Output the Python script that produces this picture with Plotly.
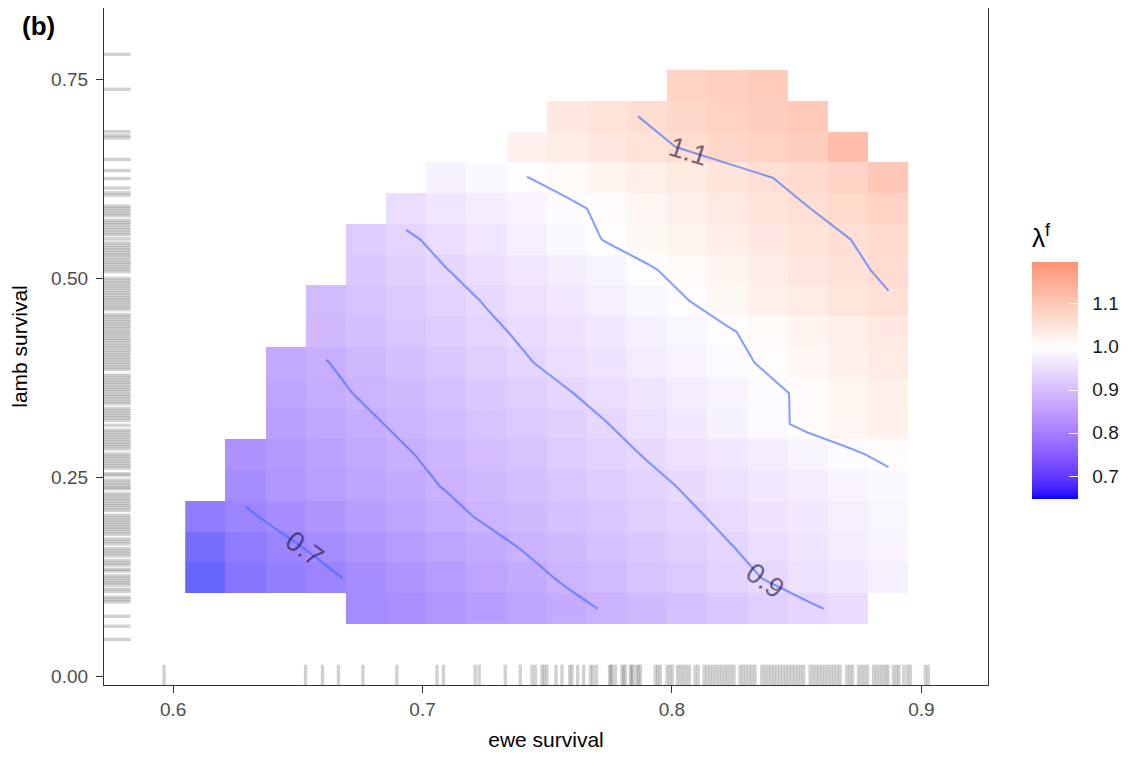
import math
import plotly.graph_objects as go

# ---------------- data ----------------
ewe_survival = [0.6129, 0.6290, 0.6451, 0.6612, 0.6773, 0.6934, 0.7096, 0.7257, 0.7418,
                0.7579, 0.7740, 0.7901, 0.8062, 0.8223, 0.8384, 0.8546, 0.8707, 0.8868]
lamb_survival = [0.0843, 0.1230, 0.1617, 0.2004, 0.2391, 0.2778, 0.3164, 0.3551, 0.3938,
                 0.4325, 0.4712, 0.5099, 0.5486, 0.5873, 0.6260, 0.6646, 0.7033, 0.7420]
N = None
# lambda^f, one row per lamb-survival value (bottom to top), one column per ewe-survival value
lambda_f = [
    [N, N, N, N, 0.705, 0.716, 0.733, 0.751, 0.769, 0.787, 0.804, 0.822, 0.840, 0.858, 0.876, 0.893, 0.911, N],
    [0.647, 0.665, 0.680, 0.692, 0.711, 0.730, 0.749, 0.768, 0.787, 0.806, 0.826, 0.845, 0.865, 0.884, 0.903, 0.922, 0.942, 0.961],
    [0.655, 0.673, 0.692, 0.711, 0.730, 0.748, 0.767, 0.786, 0.804, 0.823, 0.841, 0.860, 0.878, 0.897, 0.915, 0.934, 0.952, 0.970],
    [0.675, 0.694, 0.713, 0.732, 0.750, 0.769, 0.788, 0.806, 0.823, 0.841, 0.858, 0.875, 0.892, 0.910, 0.927, 0.944, 0.961, 0.978],
    [N, 0.712, 0.735, 0.753, 0.770, 0.786, 0.803, 0.820, 0.837, 0.854, 0.871, 0.888, 0.905, 0.922, 0.939, 0.956, 0.973, 0.985],
    [N, 0.725, 0.742, 0.760, 0.778, 0.796, 0.814, 0.831, 0.849, 0.867, 0.885, 0.903, 0.920, 0.938, 0.956, 0.974, 0.992, 1.010],
    [N, N, 0.756, 0.774, 0.792, 0.810, 0.828, 0.846, 0.864, 0.882, 0.899, 0.921, 0.944, 0.966, 0.988, 1.010, 1.025, 1.040],
    [N, N, 0.770, 0.788, 0.806, 0.824, 0.842, 0.860, 0.878, 0.897, 0.915, 0.934, 0.953, 0.971, 0.990, 1.009, 1.028, 1.047],
    [N, N, 0.781, 0.798, 0.820, 0.839, 0.858, 0.878, 0.897, 0.915, 0.933, 0.951, 0.970, 0.988, 1.006, 1.024, 1.042, 1.061],
    [N, N, N, 0.821, 0.838, 0.856, 0.873, 0.891, 0.908, 0.926, 0.944, 0.961, 0.979, 0.996, 1.014, 1.032, 1.049, 1.067],
    [N, N, N, 0.827, 0.846, 0.865, 0.884, 0.903, 0.923, 0.942, 0.961, 0.980, 0.999, 1.019, 1.038, 1.058, 1.077, 1.096],
    [N, N, N, N, 0.860, 0.879, 0.899, 0.918, 0.937, 0.957, 0.976, 0.995, 1.014, 1.033, 1.052, 1.071, 1.090, 1.108],
    [N, N, N, N, 0.870, 0.892, 0.915, 0.937, 0.959, 0.982, 1.003, 1.019, 1.035, 1.051, 1.067, 1.084, 1.099, 1.116],
    [N, N, N, N, N, 0.918, 0.937, 0.955, 0.973, 0.991, 1.009, 1.027, 1.045, 1.063, 1.081, 1.099, 1.117, 1.135],
    [N, N, N, N, N, N, 0.967, 0.983, 0.999, 1.016, 1.033, 1.049, 1.065, 1.082, 1.098, 1.114, 1.131, 1.170],
    [N, N, N, N, N, N, N, N, 1.038, 1.055, 1.072, 1.088, 1.105, 1.122, 1.138, 1.152, 1.195, N],
    [N, N, N, N, N, N, N, N, N, 1.070, 1.087, 1.104, 1.120, 1.137, 1.150, 1.165, N, N],
    [N, N, N, N, N, N, N, N, N, N, N, N, 1.130, 1.145, 1.155, N, N, N],
]
contour_levels = [0.7, 0.8, 0.9, 1.0, 1.1]
labelled_levels = ["0.7", "0.9", "1.1"]

x_ticks = [0.6, 0.7, 0.8, 0.9]
x_tick_text = ["0.6", "0.7", "0.8", "0.9"]
y_ticks = [0.00, 0.25, 0.50, 0.75]
y_tick_text = ["0.00", "0.25", "0.50", "0.75"]
cbar_ticks = [0.7, 0.8, 0.9, 1.0, 1.1]
cbar_tick_text = ["0.7", "0.8", "0.9", "1.0", "1.1"]

# rug values (observed survival estimates)
lamb_rug = [
    0.781, 0.737, 0.684, 0.679, 0.676, 0.649, 0.635, 0.625, 0.613, 0.607, 0.604,
    0.5902, 0.5874, 0.5843, 0.5811, 0.5783, 0.5726, 0.5697, 0.5669, 0.5634, 0.5605, 0.5571, 0.5543,
    0.5492, 0.5441, 0.5412, 0.5380, 0.5352, 0.5318, 0.5291, 0.5263, 0.5229, 0.5198, 0.5171, 0.5140,
    0.5109, 0.5081, 0.4995, 0.4964, 0.4936, 0.4902, 0.4875, 0.4843, 0.4811, 0.4782, 0.4751, 0.4723,
    0.4692, 0.4661, 0.4633, 0.4604, 0.4540, 0.4512, 0.4481, 0.4450, 0.4422, 0.4393, 0.4361, 0.4330,
    0.4302, 0.4271, 0.4240, 0.4212, 0.4183, 0.4151,
    0.4122, 0.4093, 0.4061, 0.4032, 0.4000, 0.3971, 0.3942, 0.3910, 0.3881, 0.3852, 0.3779, 0.3750,
    0.3719, 0.3690, 0.3661, 0.3630, 0.3601, 0.3572, 0.3540, 0.3511, 0.3482, 0.3450, 0.3421, 0.3362,
    0.3331, 0.3303, 0.3272, 0.3243, 0.3212, 0.3150, 0.3091, 0.3062, 0.3030, 0.3001, 0.2972, 0.2940,
    0.2911, 0.2882, 0.2851, 0.2790, 0.2761, 0.2732, 0.2700, 0.2671, 0.2640, 0.2611, 0.2542, 0.2520,
    0.2461, 0.2430, 0.2401, 0.2370, 0.2351, 0.2290, 0.2261, 0.2230, 0.2201, 0.2170, 0.2141, 0.2112,
    0.2082, 0.2021, 0.1990, 0.1961, 0.1930, 0.1902, 0.1871, 0.1843, 0.1812, 0.1781, 0.1722, 0.1691,
    0.1660, 0.1601, 0.1570, 0.1542, 0.1511, 0.1452, 0.1421, 0.1393, 0.1340, 0.1320, 0.1261, 0.1230,
    0.1201, 0.1172, 0.1143, 0.1091, 0.1062, 0.0990, 0.0961, 0.0932,
    0.075, 0.0625, 0.046,
]
ewe_rug = [
    0.5964, 0.6531, 0.6599, 0.6663, 0.6761, 0.6897, 0.7058, 0.7084, 0.7211, 0.7227, 0.7332, 0.7392,
    0.7439, 0.7452, 0.7479, 0.7488, 0.7499, 0.7535, 0.7559, 0.7590, 0.7599, 0.7622, 0.7646, 0.7673,
    0.7683, 0.7697, 0.7750, 0.7755, 0.7760, 0.7773, 0.7800, 0.7806, 0.7813, 0.7833, 0.7838, 0.7844,
    0.7858, 0.7866, 0.7873, 0.7933, 0.7943, 0.7953, 0.7980, 0.7991,
    0.8001, 0.8022, 0.8034, 0.8046, 0.8058, 0.8070, 0.8093, 0.8105, 0.8129, 0.8141, 0.8153, 0.8165,
    0.8177, 0.8189, 0.8201, 0.8213, 0.8225, 0.8237, 0.8249, 0.8273, 0.8285, 0.8297, 0.8309, 0.8321,
    0.8333, 0.8360, 0.8372, 0.8384, 0.8396, 0.8408, 0.8420, 0.8432, 0.8444, 0.8456, 0.8468, 0.8480,
    0.8492, 0.8504, 0.8516, 0.8528, 0.8554, 0.8566, 0.8578, 0.8590, 0.8602, 0.8614, 0.8626, 0.8638,
    0.8650, 0.8662, 0.8674, 0.8701, 0.8713, 0.8724, 0.8748, 0.8760, 0.8772, 0.8784, 0.8808, 0.8820,
    0.8832, 0.8844, 0.8856, 0.8866, 0.8888, 0.8900, 0.8910,
    0.8930, 0.8945, 0.8956, 0.9016, 0.9028,
]

# ---------------- layout constants ----------------
W, H = 1122, 743
ML, MR, MT, MB = 96, 142, 0, 66
XR = [0.5723, 0.9267]
YR = [-0.0113, 0.8392]
PW, PH = W - ML - MR, H - MT - MB
SX = PW / (XR[1] - XR[0])   # px per x unit
SY = PH / (YR[1] - YR[0])   # px per y unit
FONT = "Liberation Sans, Arial, sans-serif"
CB_X = (1032 - 8 - ML) / PW
CB_Y = (684 - 498) / 677

# ---------------- colour scale (ggplot gradient2 in Lab) ----------------
def _lin(c):
    c = c / 255.0
    return c / 12.92 if c <= 0.04045 else ((c + 0.055) / 1.055) ** 2.4

def rgb2lab(rgb):
    r, g, b = [_lin(c) for c in rgb]
    X = 0.4124 * r + 0.3576 * g + 0.1805 * b
    Y = 0.2126 * r + 0.7152 * g + 0.0722 * b
    Z = 0.0193 * r + 0.1192 * g + 0.9505 * b
    f = lambda t: t ** (1 / 3) if t > 0.008856 else 7.787 * t + 16 / 116
    fx, fy, fz = f(X / 0.95047), f(Y / 1.0), f(Z / 1.08883)
    return (116 * fy - 16, 500 * (fx - fy), 200 * (fy - fz))

def lab2rgb(lab):
    L, a, b = lab
    fy = (L + 16) / 116
    fx = fy + a / 500
    fz = fy - b / 200
    finv = lambda t: t ** 3 if t ** 3 > 0.008856 else (t - 16 / 116) / 7.787
    X, Y, Z = 0.95047 * finv(fx), finv(fy), 1.08883 * finv(fz)
    r = 3.2406 * X - 1.5372 * Y - 0.4986 * Z
    g = -0.9689 * X + 1.8758 * Y + 0.0415 * Z
    bb = 0.0557 * X - 0.2040 * Y + 1.0570 * Z
    def gam(c):
        c = max(0.0, min(1.0, c))
        return 12.92 * c if c <= 0.0031308 else 1.055 * c ** (1 / 2.4) - 0.055
    return [int(round(255 * gam(c))) for c in (r, g, bb)]

LOW, MIDC, HIGH = rgb2lab((0, 0, 255)), rgb2lab((255, 255, 255)), rgb2lab((255, 0, 0))

def mix(l1, l2, f):
    return lab2rgb(tuple(l1[k] + (l2[k] - l1[k]) * f for k in range(3)))

vals = [v for row in lambda_f for v in row if v is not None]
ZMIN, ZMAX, MID = min(vals), max(vals), 1.0
D = max(MID - ZMIN, ZMAX - MID)
colorscale = []
for k in range(41):
    p = k / 40
    v = ZMIN + p * (ZMAX - ZMIN)
    t = (v - MID) / (2 * D) + 0.5
    c = mix(LOW, MIDC, t / 0.5) if t < 0.5 else mix(MIDC, HIGH, (t - 0.5) / 0.5)
    colorscale.append([p, "rgb(%d,%d,%d)" % tuple(c)])

# ---------------- marching squares contours ----------------
X, Y, Z = ewe_survival, lamb_survival, lambda_f
nr, nc = len(Y), len(X)

def edge_point(key, lev):
    kind, j, i = key
    if kind == "h":
        v1, v2 = Z[j][i], Z[j][i + 1]
        t = (lev - v1) / (v2 - v1)
        return (X[i] + t * (X[i + 1] - X[i]), Y[j])
    v1, v2 = Z[j][i], Z[j + 1][i]
    t = (lev - v1) / (v2 - v1)
    return (X[i], Y[j] + t * (Y[j + 1] - Y[j]))

def contour_paths(lev):
    adj = {}
    def link(a, b):
        adj.setdefault(a, []).append(b)
        adj.setdefault(b, []).append(a)
    for j in range(nr - 1):
        for i in range(nc - 1):
            a, b, c, d = Z[j][i], Z[j][i + 1], Z[j + 1][i + 1], Z[j + 1][i]
            if None in (a, b, c, d):
                continue
            edges = [(("h", j, i), a, b), (("v", j, i + 1), b, c),
                     (("h", j + 1, i), d, c), (("v", j, i), a, d)]
            crossed = [e[0] for e in edges if (e[1] - lev) * (e[2] - lev) < 0]
            if len(crossed) == 2:
                link(crossed[0], crossed[1])
            elif len(crossed) == 4:
                centre = (a + b + c + d) / 4
                bot, right, top, left = crossed
                if (centre > lev) == (a > lev):
                    link(bot, right); link(top, left)
                else:
                    link(left, bot); link(right, top)
    used, paths = set(), []
    starts = [k for k in adj if len(adj[k]) == 1] + list(adj.keys())
    for s in starts:
        if s in used:
            continue
        path, prev, cur = [s], None, s
        used.add(s)
        while True:
            nxt = [n for n in adj[cur] if n != prev and n not in used]
            if not nxt:
                break
            prev, cur = cur, nxt[0]
            used.add(cur)
            path.append(cur)
        pts = [edge_point(k, lev) for k in path]
        if pts[0][0] > pts[-1][0]:
            pts = pts[::-1]
        paths.append(pts)
    return paths

label_fraction = {"0.7": 0.60, "0.9": 0.885, "1.1": 0.20}

fig = go.Figure()
fig.add_trace(go.Heatmap(
    x=X, y=Y, z=Z, zmin=ZMIN, zmax=ZMAX, colorscale=colorscale, opacity=0.6,
    hoverongaps=False,
    colorbar=dict(
        title=dict(text="λ<sup>f</sup>", side="top",
                   font=dict(family=FONT, size=26, color="#000000")),
        tickvals=cbar_ticks, ticktext=cbar_tick_text,
        ticks="outside", ticklen=11, tickwidth=1, tickcolor="rgba(0,0,0,0)",
        tickfont=dict(family=FONT, size=19, color="#1a1a1a"),
        outlinewidth=0, thickness=46, thicknessmode="pixels",
        len=275, lenmode="pixels",
        x=CB_X, xanchor="left", xpad=0, y=CB_Y, yanchor="bottom", ypad=0,
    ),
))
# same scale again with invisible cells: draws only the white tick marks inside the bar
fig.add_trace(go.Heatmap(
    x=X, y=Y, z=Z, zmin=ZMIN, zmax=ZMAX, colorscale=colorscale, opacity=0,
    hoverinfo="skip",
    colorbar=dict(
        tickvals=cbar_ticks, showticklabels=False,
        ticks="inside", ticklen=9, tickwidth=1, tickcolor="white",
        outlinewidth=0, thickness=46, thicknessmode="pixels",
        len=236, lenmode="pixels",
        x=CB_X, xanchor="left", xpad=0, y=CB_Y, yanchor="bottom", ypad=0,
    ),
))

annotations = []
for lev in contour_levels:
    paths = contour_paths(lev)
    xs, ys = [], []
    for pts in paths:
        xs += [p[0] for p in pts] + [None]
        ys += [p[1] for p in pts] + [None]
    fig.add_trace(go.Scatter(x=xs, y=ys, mode="lines", hoverinfo="skip", showlegend=False,
                             line=dict(color="rgba(51,102,255,0.6)", width=2.1)))
    name = "%.1f" % lev
    if name in labelled_levels and paths:
        pts = max(paths, key=len)
        px = [(p[0] * SX, -p[1] * SY) for p in pts]
        seg = [math.dist(px[k], px[k + 1]) for k in range(len(px) - 1)]
        target = label_fraction[name] * sum(seg)
        acc, k = 0.0, 0
        while k < len(seg) - 1 and acc + seg[k] < target:
            acc += seg[k]; k += 1
        f = (target - acc) / seg[k] if seg[k] else 0
        lx = pts[k][0] + f * (pts[k + 1][0] - pts[k][0])
        ly = pts[k][1] + f * (pts[k + 1][1] - pts[k][1])
        k0, k1 = max(0, k - 1), min(len(px) - 1, k + 2)
        ang = math.degrees(math.atan2(px[k1][1] - px[k0][1], px[k1][0] - px[k0][0]))
        if ang > 90: ang -= 180
        if ang < -90: ang += 180
        annotations.append(dict(x=lx, y=ly, xref="x", yref="y", text=name, showarrow=False,
                                textangle=ang, xanchor="center", yanchor="middle",
                                font=dict(family=FONT, size=28, color="rgba(25,15,45,0.62)")))

RUG = dict(color="rgba(128,128,128,0.36)", width=3.4)
shapes = []
for v in lamb_rug:
    shapes.append(dict(type="line", xref="x domain", x0=0, x1=0.03, yref="y", y0=v, y1=v,
                       line=RUG, layer="above"))
for v in ewe_rug:
    shapes.append(dict(type="line", yref="y domain", y0=0, y1=0.03, xref="x", x0=v, x1=v,
                       line=RUG, layer="above"))

annotations.append(dict(x=(38 - 8 - ML) / PW, y=(684 - 25) / 677, xref="paper", yref="paper",
                        text="<b>(b)</b>", showarrow=False, xanchor="center", yanchor="middle",
                        font=dict(family=FONT, size=26, color="#000000")))

axis_common = dict(showgrid=False, zeroline=False, showline=True, mirror=True,
                   linecolor="#333333", linewidth=1.2, ticks="outside", ticklen=7,
                   tickwidth=1.3, tickcolor="#333333",
                   tickfont=dict(family=FONT, size=19, color="#4d4d4d"))

fig.update_layout(
    width=W, height=H, margin=dict(l=ML, r=MR, t=MT, b=MB, autoexpand=False),
    paper_bgcolor="white", plot_bgcolor="white",
    xaxis=dict(range=XR, tickvals=x_ticks, ticktext=x_tick_text,
               title=dict(text="ewe survival", standoff=26,
                          font=dict(family=FONT, size=21, color="#000000")),
               **axis_common),
    yaxis=dict(range=YR, tickvals=y_ticks, ticktext=y_tick_text, ticklabelstandoff=4,
               title=dict(text="lamb survival", standoff=22,
                          font=dict(family=FONT, size=21, color="#000000")),
               **axis_common),
    shapes=shapes, annotations=annotations, showlegend=False,
)

fig.write_html("out.html")
